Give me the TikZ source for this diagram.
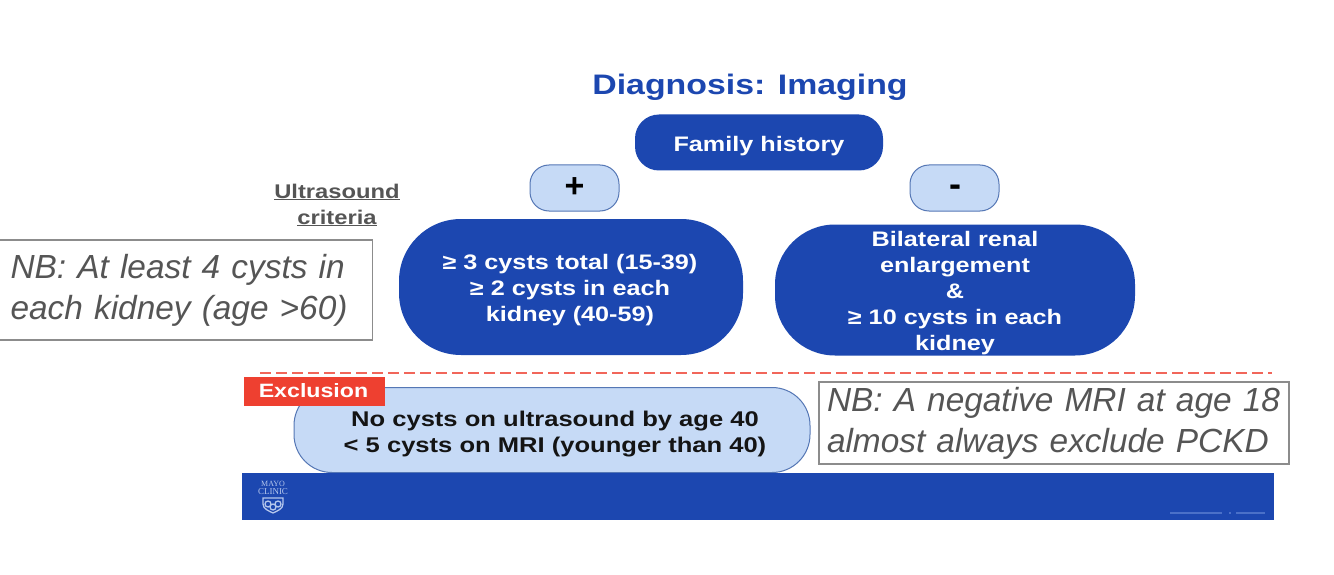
\documentclass[tikz,border=0pt]{standalone}
\usepackage{fontspec}
\setmainfont{Liberation Sans}
\newfontfamily\widefont[FakeStretch=1.2]{Liberation Sans}
\newfontfamily\logofont{Liberation Serif}
\definecolor{mblue}{HTML}{1C47B0}
\definecolor{lblue}{HTML}{C6DAF6}
\definecolor{edgeb}{HTML}{5577B5}
\definecolor{gtext}{HTML}{555555}
\definecolor{dtext}{HTML}{141414}
\definecolor{exred}{HTML}{EE4030}
\definecolor{logoc}{HTML}{B4C6EC}
\definecolor{footc}{HTML}{4A70C8}
\tikzset{
 px/.style={x=1pt,y=-1pt},
 bluebox/.style={fill=mblue,text=white,font=\widefont\bfseries\fontsize{21}{26}\selectfont,align=center,inner sep=0pt},
 lightbox/.style={fill=lblue,draw=edgeb,line width=1pt},
 note/.style={draw=gray!90,line width=1.2pt,fill=white,text=gtext,font=\itshape\fontsize{33.4}{41}\selectfont,align=left,inner sep=0pt},
 logotext/.style={text=logoc,font=\logofont\fontsize{8}{8}\selectfont,inner sep=0pt},
 logoshape/.style={draw=logoc,line width=1.3pt},
 footline/.style={draw=footc,line width=2.5pt},
}
\begin{document}
\begin{tikzpicture}[px]
\useasboundingbox (0,0) rectangle (1334,575);
\fill[white] (0,0) rectangle (1334,575);
\node[text=mblue,font=\widefont\bfseries\fontsize{28.2}{30}\selectfont] (title) at (750,87) {Diagnosis: Imaging};
\node[bluebox,minimum width=248pt,minimum height=56pt,rounded corners=24pt,text depth=0pt] (fh) at (759,142.5) {\raisebox{-3pt}{Family history}};
\node[lightbox,minimum width=89pt,minimum height=46pt,rounded corners=19pt] (plus) at (574.5,188) {};
\node[font=\bfseries\fontsize{34}{34}\selectfont,text=black] (plust) at (574.5,188) {+};
\node[lightbox,minimum width=89pt,minimum height=46pt,rounded corners=19pt] (minus) at (954.5,188) {};
\node[font=\bfseries\fontsize{36}{36}\selectfont,text=black] (minust) at (955,191) {-};
\node[font=\widefont\bfseries\fontsize{19.8}{26}\selectfont,text=gtext,align=center] (us) at (337,205) {\underline{Ultrasound}\\\underline{criteria}};
\node[bluebox,minimum width=344pt,minimum height=136pt,rounded corners=62pt] (a) at (571,287) {};
\node[font=\widefont\bfseries\fontsize{21}{26}\selectfont,text=white,align=center] (at) at (570,290) {≥ 3 cysts total (15-39)\\≥ 2 cysts in each\\kidney (40-59)};
\node[bluebox,minimum width=360pt,minimum height=131pt,rounded corners=60pt] (b) at (955,290) {};
\node[font=\widefont\bfseries\fontsize{21}{26}\selectfont,text=white,align=center] (bt) at (955,293) {Bilateral renal\\enlargement\\\&\\≥ 10 cysts in each\\kidney};
\node[note,minimum width=373pt,minimum height=100pt,anchor=west,text width=373pt] (nb1) at (-1,290) {\hspace*{11pt}NB: At least 4 cysts in\\\hspace*{11pt}each kidney (age >60)};
\coordinate (dl) at (260,372.5);
\coordinate (dr) at (1272,372.5);
\draw[exred!80,line width=2pt,dash pattern=on 11pt off 5pt] (dl) -- (dr);
\node[lightbox,minimum width=516pt,minimum height=85pt,rounded corners=38pt] (ex) at (552,430) {};
\node[font=\widefont\bfseries\fontsize{21.3}{26}\selectfont,text=dtext,align=center] (ext) at (555,434) {No cysts on ultrasound by age 40\\< 5 cysts on MRI (younger than 40)};
\node[fill=exred,text=white,font=\widefont\bfseries\fontsize{19.3}{22}\selectfont,minimum width=141pt,minimum height=29pt,inner sep=0pt] (lab) at (314.5,391) {\hspace*{-2pt}Exclusion};
\node[note,minimum width=470pt,minimum height=82pt,text width=470pt] (nb2) at (1054,423) {\hspace*{8pt}NB: A negative MRI at age 18\\\hspace*{8pt}almost always exclude PCKD};
\fill[mblue] (242,473) rectangle (1274,520);
% logo
\node[logotext] (mayo) at (273,484) {MAYO};
\node[logotext,font=\logofont\fontsize{9}{9}\selectfont] (clinic) at (273,492) {CLINIC};
\draw[logoshape] (263,498) -- (283,498) -- (283,504) .. controls (283,509) and (277,511) .. (273,513) .. controls (269,511) and (263,509) .. (263,504) -- cycle;
\draw[logoshape] (268,504) circle (3pt);
\draw[logoshape] (278,504) circle (3pt);
\draw[logoshape] (273,507) circle (3pt);
% illegible footer line
\draw[footline] (1170,513) -- (1222,513);
\draw[footline] (1229,513) -- (1231,513);
\draw[footline] (1236,513) -- (1265,513);
\end{tikzpicture}
\end{document}
